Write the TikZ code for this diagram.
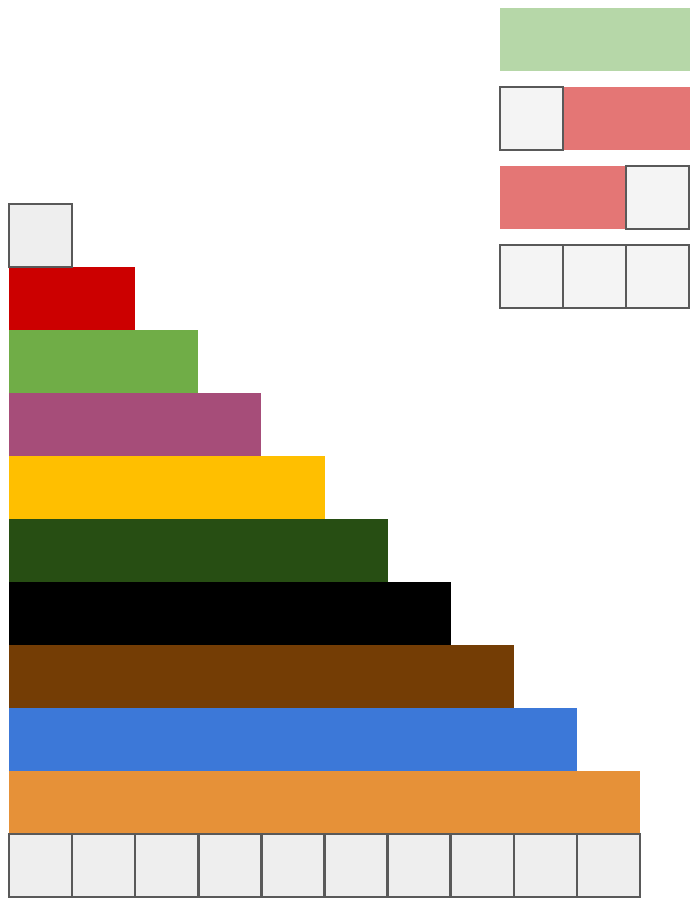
\documentclass[tikz,border=0pt]{standalone}
\usepackage{xcolor}
\usepackage{tikz}
\definecolor{rodred}{HTML}{CC0000}
\definecolor{rodgreen}{HTML}{70AD47}
\definecolor{rodpurple}{HTML}{A64D79}
\definecolor{rodyellow}{HTML}{FFBF00}
\definecolor{roddkgreen}{HTML}{274E13}
\definecolor{rodblack}{HTML}{000000}
\definecolor{rodbrown}{HTML}{743D05}
\definecolor{rodblue}{HTML}{3C78D8}
\definecolor{rodorange}{HTML}{E69138}
\definecolor{cubegray}{HTML}{EEEEEE}
\definecolor{cubelight}{HTML}{F4F4F4}
\definecolor{edgegray}{HTML}{595959}
\definecolor{palegreen}{HTML}{B6D7A8}
\definecolor{palered}{HTML}{E47675}
\tikzset{cube/.style={draw=edgegray,line width=1.4pt,fill=cubegray},
  lightcube/.style={cube,fill=cubelight}}

\begin{document}
\begin{tikzpicture}[x=0.02cm,y=-0.02cm]
\useasboundingbox (0,0) rectangle (692,901);
% staircase of rods
\foreach \n/\c in {2/rodred,3/rodgreen,4/rodpurple,5/rodyellow,6/roddkgreen,7/rodblack,8/rodbrown,9/rodblue,10/rodorange}
  \fill[\c] (9,{204+(\n-1)*63}) rectangle ({9+\n*63.1},{204+\n*63});
\draw[cube] (9,204) rectangle (72,267);
\foreach \i in {0,...,9}
  \draw[cube] ({9+\i*63.1},834) rectangle ({9+(\i+1)*63.1},897);
% three ways to make the light green rod
\fill[palegreen] (500,8) rectangle (690,71);
\fill[palered] (563,87) rectangle (690,150);
\draw[lightcube] (500,87) rectangle (563,150);
\fill[palered] (500,166) rectangle (626,229);
\draw[lightcube] (626,166) rectangle (689,229);
\foreach \i in {0,1,2}
  \draw[lightcube] ({500+\i*63},245) rectangle ({500+(\i+1)*63},308);
\end{tikzpicture}
\end{document}
